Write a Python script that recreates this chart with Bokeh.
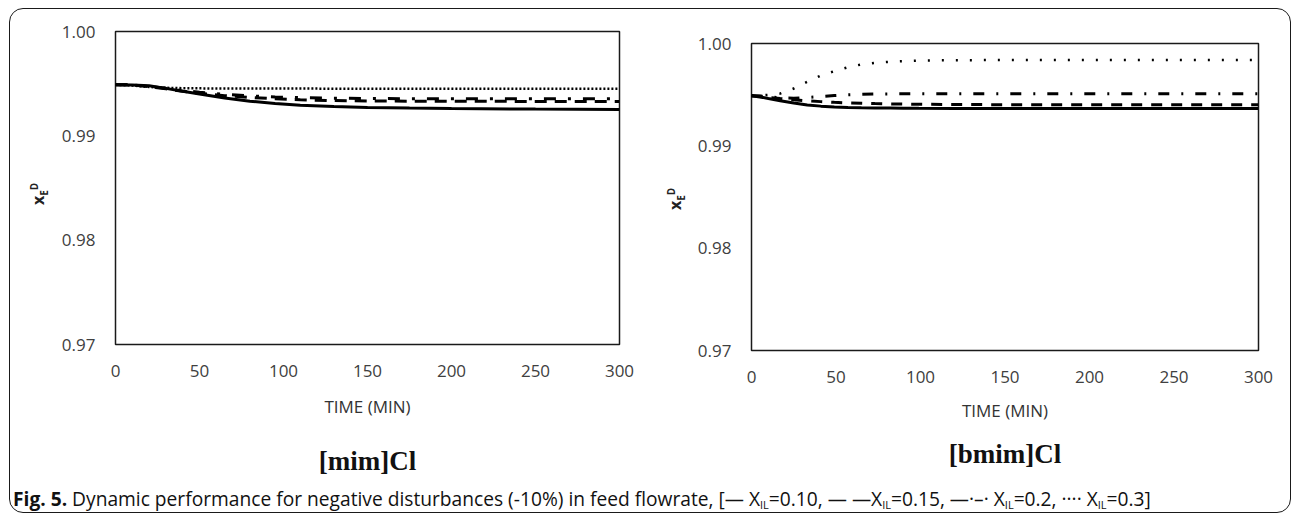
from bokeh.plotting import figure
from bokeh.models import Range1d, FixedTicker, Div, PrintfTickFormatter, LinearAxis, Spacer
from bokeh.layouts import row, column
from bokeh.embed import file_html
from bokeh.resources import INLINE

# ---- axes ----
x_ticks = [0, 50, 100, 150, 200, 250, 300]
y_ticks = [0.97, 0.98, 0.99, 1.00]

# ---- [mim]Cl : distillate purity after a -10 % feed-flow step ----
time_mim = [0, 10, 20, 30, 40, 50, 65, 80, 95, 110, 130, 150, 175, 200, 250, 300]
mim_x010 = [0.9949, 0.99488, 0.99480, 0.99455, 0.99428, 0.99400, 0.99362, 0.99332,
            0.99310, 0.99293, 0.99280, 0.99272, 0.99266, 0.99262, 0.99256, 0.99252]
mim_x015 = [0.9949, 0.99488, 0.99472, 0.99450, 0.99428, 0.99408, 0.99385, 0.99368,
            0.99355, 0.99345, 0.99338, 0.99334, 0.99332, 0.99331, 0.99330, 0.99330]
mim_x020 = [0.9949, 0.99488, 0.99474, 0.99455, 0.99435, 0.99418, 0.99398, 0.99383,
            0.99373, 0.99366, 0.99361, 0.99358, 0.99356, 0.99355, 0.99355, 0.99355]
mim_x030 = [0.9949, 0.99482, 0.99468, 0.99460, 0.99457, 0.99455, 0.99454, 0.99453,
            0.99453, 0.99453, 0.99452, 0.99452, 0.99452, 0.99452, 0.99452, 0.99452]

# ---- [bmim]Cl ----
time_bmim = [0, 5, 10, 17, 25, 33, 41, 49, 57, 65, 73, 82, 90, 99, 120, 150, 200, 250, 300]
bmim_x010 = [0.9949, 0.99478, 0.99462, 0.99440, 0.99418, 0.99400, 0.99388, 0.99380,
             0.99375, 0.99372, 0.99370, 0.99369, 0.99368, 0.99367, 0.99366, 0.99365,
             0.99365, 0.99365, 0.99365]
bmim_x015 = [0.9949, 0.99484, 0.99474, 0.99462, 0.99450, 0.99440, 0.99432, 0.99425,
             0.99420, 0.99416, 0.99413, 0.99410, 0.99408, 0.99406, 0.99404, 0.99402,
             0.99401, 0.99401, 0.99401]
bmim_x020 = [0.9949, 0.99486, 0.99478, 0.99470, 0.99466, 0.99472, 0.99482, 0.99492,
             0.99499, 0.99503, 0.99506, 0.99508, 0.99509, 0.99510, 0.99510, 0.99510,
             0.99510, 0.99510, 0.99510]
bmim_x030 = [0.9949, 0.99492, 0.99498, 0.99511, 0.99560, 0.99626, 0.99687, 0.99729,
             0.99768, 0.99795, 0.99811, 0.99821, 0.99827, 0.99833, 0.99837, 0.99838,
             0.99838, 0.99838, 0.99838]

FONT = "Open Sans"


def make_panel(frame_w, frame_h, b_left, b_right, b_top, b_bottom,
               tick_standoff, xlabel_standoff, title, title_standoff):
    p = figure(frame_width=frame_w, frame_height=frame_h,
               x_range=Range1d(0, 300), y_range=Range1d(0.97, 1.00),
               output_backend="svg", toolbar_location=None,
               min_border_left=b_left, min_border_right=b_right,
               min_border_top=b_top, min_border_bottom=b_bottom,
               background_fill_color="white", border_fill_color="white")
    p.grid.visible = False
    p.outline_line_color = "#1a1a1a"
    p.outline_line_width = 1.5
    for ax in (p.xaxis[0], p.yaxis[0]):
        ax.axis_line_color = None
        ax.major_tick_line_color = None
        ax.minor_tick_line_color = None
        ax.major_tick_out = 0
        ax.major_label_text_font = FONT
        ax.major_label_text_font_size = "17px"
        ax.major_label_text_color = "#404040"
    p.xaxis.ticker = FixedTicker(ticks=x_ticks)
    p.yaxis.ticker = FixedTicker(ticks=y_ticks)
    p.yaxis.formatter = PrintfTickFormatter(format="%.2f")
    p.xaxis.major_label_standoff = tick_standoff
    p.yaxis.major_label_standoff = 20
    p.xaxis.axis_label = "TIME (MIN)"
    p.xaxis.axis_label_text_font = FONT
    p.xaxis.axis_label_text_font_style = "normal"
    p.xaxis.axis_label_text_font_size = "17px"
    p.xaxis.axis_label_text_color = "#333333"
    p.xaxis.axis_label_standoff = xlabel_standoff

    # ionic-liquid name set under the time axis
    name_axis = LinearAxis(ticker=FixedTicker(ticks=[]), axis_label=title,
                           axis_line_color=None, major_tick_line_color=None,
                           minor_tick_line_color=None, major_tick_out=0,
                           major_label_standoff=0,
                           axis_label_standoff=title_standoff,
                           axis_label_text_font="Liberation Serif",
                           axis_label_text_font_style="bold",
                           axis_label_text_font_size="27px",
                           axis_label_text_color="#111111")
    p.add_layout(name_axis, "below")
    return p


def y_label_div(m_left, m_top, height):
    # rotated x_E^D drawn with real sub/superscripts
    html = (
        f'<div style="margin-left:{m_left}px;margin-top:{m_top}px;'
        'transform:rotate(-90deg);transform-origin:left top;white-space:nowrap;'
        f'font-family:\'{FONT}\';font-weight:bold;font-size:16px;line-height:20px;color:#222;">'
        'x<span style="font-size:10px;position:relative;top:4px;">E</span>'
        '<span style="font-size:10px;position:relative;top:-6px;">D</span></div>'
    )
    return Div(text=html, width=45, height=height, margin=(0, 0, 0, 0))


# left panel: [mim]Cl
p1 = make_panel(504, 313, 60, 25, 22, 138, 20, 15, "[mim]Cl", 25)
p1.line(time_mim, mim_x010, line_color="black", line_width=3)
p1.line(time_mim, mim_x015, line_color="black", line_width=3, line_dash="12 8")
p1.line(time_mim, mim_x020, line_color="black", line_width=3, line_dash="12 12 3 12")
p1.line(time_mim, mim_x030, line_color="black", line_width=2.5, line_dash="2 2")

# right panel: [bmim]Cl (sits 12 px lower)
p2 = make_panel(507, 307, 62, 32, 22, 138, 20, 13, "[bmim]Cl", 14)
p2.line(time_bmim, bmim_x010, line_color="black", line_width=3)
p2.line(time_bmim, bmim_x015, line_color="black", line_width=3, line_dash="11 9")
p2.line(time_bmim, bmim_x020, line_color="black", line_width=3, line_dash="11 12 2 12")
p2.line(time_bmim, bmim_x030, line_color="black", line_width=2.5, line_dash="2 12")

ylab1 = y_label_div(18, 196, 473)
ylab2 = y_label_div(21, 201, 479)
right_col = column(Spacer(width=10, height=12, margin=(0, 0, 0, 0)), p2)

sub = '<sub style="font-size:11px;vertical-align:-3px;line-height:0;">IL</sub>'
caption_html = (
    '<div style="margin:0 0 0 3px;font-family:\'Open Sans\';font-size:19.2px;line-height:22px;'
    'color:#111;white-space:nowrap;">'
    '<b>Fig. 5.</b> Dynamic performance for negative disturbances (-10%) in feed flowrate, '
    f'[— X{sub}=0.10, — —X{sub}=0.15, —·–· X{sub}=0.2, ···· X{sub}=0.3]'
    '</div>'
)
cap = Div(text=caption_html, width=1280, height=24, margin=(0, 0, 0, 0))

layout = column(row(ylab1, p1, ylab2, right_col), cap,
                styles={"border": "1.5px solid #1a1a1a", "border-radius": "14px",
                        "margin-left": "9px", "margin-top": "8px",
                        "background-color": "white", "overflow": "hidden"})

open("out.html", "w").write(file_html(layout, INLINE))
